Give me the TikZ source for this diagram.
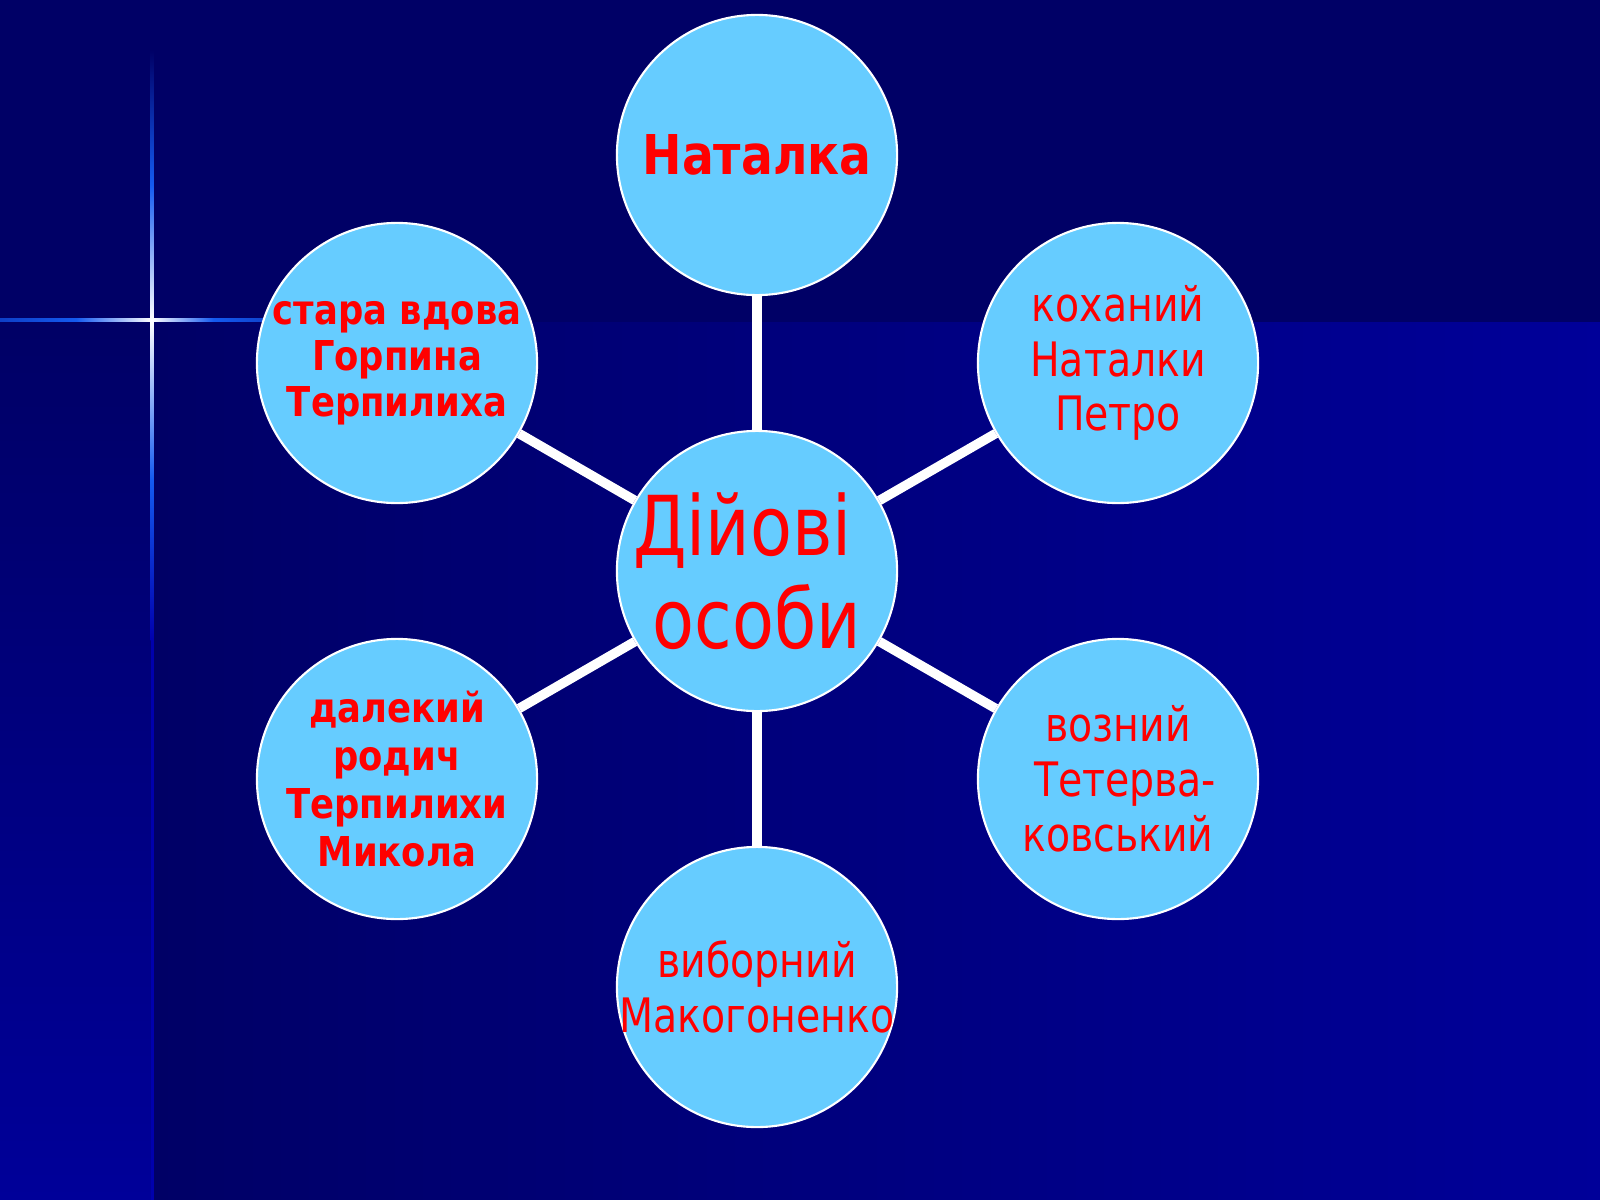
\documentclass[tikz,border=0pt]{standalone}
\usepackage{fontspec}
\setmainfont{DejaVu Sans}
\newfontfamily\regf[FakeStretch=0.83]{DejaVu Sans}
\newfontfamily\bldf[FakeStretch=0.86]{DejaVu Sans}
\definecolor{bgdark}{RGB}{0,0,102}
\definecolor{bgbright}{RGB}{0,0,153}
\definecolor{starblue}{RGB}{20,90,240}
\definecolor{cfill}{RGB}{102,204,255}
\tikzset{
  circ/.style={circle, fill=cfill, draw=white, line width=0.6pt, minimum size=2.8cm,
    inner sep=0pt},
  lbl/.style={inner sep=0pt, align=center, text=red},
  conn/.style={draw=white, line width=2.7pt},
  regtext/.style={lbl, font=\regf\fontsize{13.5}{15.6}\selectfont},
  boldtext/.style={lbl, font=\bldf\bfseries\fontsize{11.7}{13.1}\selectfont}
}
\begin{document}
\begin{tikzpicture}[x=0.01cm,y=-0.01cm]
\useasboundingbox (0,0) rectangle (1600,1200);
% background
\fill[bgdark] (0,0) rectangle (1600,1200);
\shade[top color=bgdark, bottom color=bgbright] (0,330) rectangle (153,1200);
\shade[left color=bgdark, right color=bgbright] (153,322) rectangle (1600,1200);
% sparkle
\fill[bgbright!80!blue] (151,320) rectangle (153.5,1200);
\shade[left color=starblue!70!bgdark, right color=white, middle color=starblue] (0,318.5) rectangle (152,321.5);
\shade[left color=white, right color=starblue!70!bgdark, middle color=starblue] (152,318.5) rectangle (275,321.5);
\shade[top color=bgdark, bottom color=white, middle color=starblue] (150.5,50) rectangle (153.5,320);
\shade[top color=white, bottom color=bgbright!80!blue, middle color=starblue] (150.5,320) rectangle (153.5,640);
% circles
\node[circ] (c) at (757,571) {};
\node[circ] (top) at (757,155) {};
\node[circ] (ur) at (1118,363) {};
\node[circ] (lr) at (1118,779) {};
\node[circ] (bot) at (757,987) {};
\node[circ] (ul) at (397,363) {};
\node[circ] (ll) at (397,779) {};
% connectors
\draw[conn] (c) -- (top);
\draw[conn] (c) -- (ur);
\draw[conn] (c) -- (lr);
\draw[conn] (c) -- (bot);
\draw[conn] (c) -- (ul);
\draw[conn] (c) -- (ll);
% texts
\node[lbl, font=\regf\fontsize{23.5}{26.5}\selectfont] (ct) at (c) {Дійові\kern0.35em\\ особи};
\node[lbl, font=\bldf\bfseries\fontsize{15.6}{18}\selectfont] (topt) at (top) {Наталка};
\node[regtext] (urt) at (ur) {коханий\\ Наталки\\ Петро};
\node[regtext] (lrt) at (lr) {возний\\ \kern0.3emТетерва-\\ ковський};
\node[regtext] (bott) at (bot) {виборний\\ Макогоненко};
\node[boldtext] (ult) at (ul) {стара вдова\\ Горпина\\ Терпилиха};
\node[lbl, font=\bldf\bfseries\fontsize{11.7}{13.7}\selectfont] (llt) at (ll) {далекий\\ родич\\ Терпилихи\\ Микола};
\end{tikzpicture}
\end{document}
